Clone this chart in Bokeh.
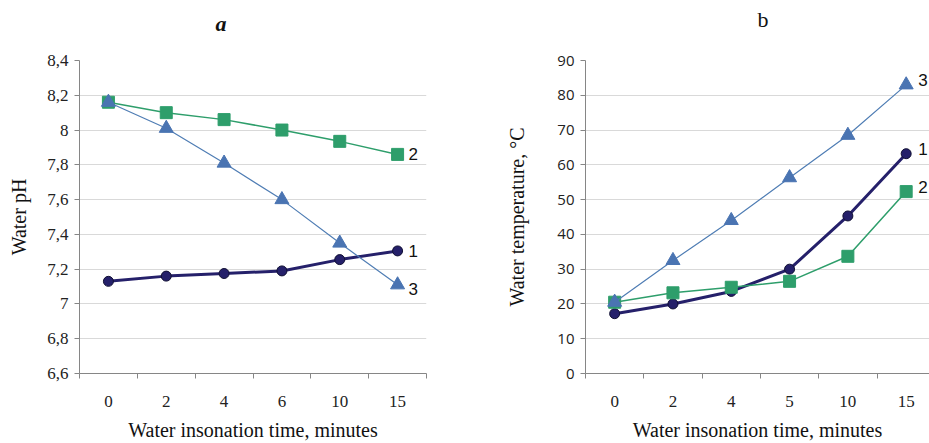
from bokeh.plotting import figure
from bokeh.layouts import row
from bokeh.models import FixedTicker, Range1d, Label, Title
from bokeh.embed import file_html
from bokeh.resources import INLINE

# ---- data ----
times_a = ["0", "2", "4", "6", "10", "15"]
times_b = ["0", "2", "4", "5", "10", "15"]
ph_1 = [7.13, 7.16, 7.175, 7.19, 7.255, 7.305]
ph_2 = [8.16, 8.10, 8.06, 8.00, 7.935, 7.86]
ph_3 = [8.16, 8.01, 7.81, 7.60, 7.35, 7.11]
ph_ticks = [6.6, 6.8, 7.0, 7.2, 7.4, 7.6, 7.8, 8.0, 8.2, 8.4]
ph_tick_labels = ["6,6", "6,8", "7", "7,2", "7,4", "7,6", "7,8", "8", "8,2", "8,4"]
temp_1 = [17.2, 20.0, 23.6, 30.0, 45.3, 63.2]
temp_2 = [20.5, 23.2, 24.8, 26.5, 33.7, 52.3]
temp_3 = [20.5, 32.5, 44.0, 56.3, 68.5, 83.0]
temp_ticks = [0, 10, 20, 30, 40, 50, 60, 70, 80, 90]
series_names = ["1", "2", "3"]

NAVY = "#25206A"
GREEN = "#2E9E6B"
BLUE = "#4A74B2"
BLUE_LINE = "#4F7DB4"
GRID = "#D9D9D9"
AXIS = "#868686"
SERIF = "Liberation Serif"


def style(p, cats, yticks, ylabels, ytick_font, ytick_size, ylabel_text, ylabel_standoff,
          title_text, title_style, title_offset, spacer):
    idx = list(range(len(cats)))
    p.xaxis.ticker = FixedTicker(ticks=idx, minor_ticks=[i - 0.5 for i in range(len(cats) + 1)])
    p.xaxis.major_label_overrides = {i: c for i, c in zip(idx, cats)}
    p.yaxis.ticker = FixedTicker(ticks=yticks)
    p.yaxis.major_label_overrides = {t: l for t, l in zip(yticks, ylabels)}
    for ax in (p.xaxis[0], p.yaxis[0]):
        ax.axis_line_color = AXIS
        ax.axis_line_width = 1
        ax.major_tick_line_color = AXIS
        ax.major_tick_in = 0
        ax.major_tick_out = 5
        ax.minor_tick_in = 0
        ax.axis_label_text_font = SERIF
        ax.axis_label_text_font_size = "20px"
        ax.axis_label_text_font_style = "normal"
        ax.axis_label_text_color = "#111111"
        ax.major_label_text_color = "#222222"
    p.xaxis.major_tick_line_color = None
    p.xaxis.minor_tick_line_color = AXIS
    p.xaxis.minor_tick_out = 5
    p.xaxis.major_label_text_font = SERIF
    p.xaxis.major_label_text_font_size = "17px"
    p.xaxis.major_label_standoff = 17
    p.xaxis.axis_label = "Water insonation time, minutes"
    p.xaxis.axis_label_standoff = 9
    p.yaxis.minor_tick_line_color = None
    p.yaxis.major_label_text_font = ytick_font
    p.yaxis.major_label_text_font_size = ytick_size
    p.yaxis.major_label_standoff = 6
    p.yaxis.axis_label = ylabel_text
    p.yaxis.axis_label_standoff = ylabel_standoff
    p.xgrid.grid_line_color = None
    p.ygrid.ticker = FixedTicker(ticks=yticks)
    p.ygrid.grid_line_color = GRID
    p.ygrid.grid_line_width = 1
    p.outline_line_color = None
    p.background_fill_color = "white"
    p.border_fill_color = "white"
    # spacer between the frame and the panel title
    p.add_layout(Title(text=" ", text_font_size="1px", standoff=spacer), "above")
    p.title.text = title_text
    p.title.text_font = SERIF
    p.title.text_font_size = "22px"
    p.title.text_font_style = title_style
    p.title.text_color = "#111111"
    p.title.align = "left"
    p.title.offset = title_offset
    p.title.standoff = 0


def draw(p, s1, s2, s3, offsets):
    x = list(range(len(s1)))
    p.line(x, s1, line_color=NAVY, line_width=3)
    p.scatter(x, s1, marker="circle", size=10, fill_color=NAVY, line_color="#111033", line_width=1)
    p.line(x, s2, line_color=GREEN, line_width=1.5)
    p.scatter(x, s2, marker="square", size=12, fill_color=GREEN, line_color=GREEN)
    p.line(x, s3, line_color=BLUE_LINE, line_width=1.2)
    p.scatter(x, s3, marker="triangle", size=14, fill_color=BLUE, line_color=BLUE)
    for name, s, off in zip(series_names, (s1, s2, s3), offsets):
        p.add_layout(Label(x=x[-1], y=s[-1], text=name, x_offset=off[0], y_offset=off[1],
                           text_font="Liberation Sans", text_font_size="17px",
                           text_baseline="middle", text_align="left", text_color="#111111"))


# ---- panel a ----
pa = figure(width=470, height=443, output_backend="svg", toolbar_location=None,
            x_range=Range1d(-0.5, 5.5), y_range=Range1d(6.6, 8.4),
            min_border_left=79, min_border_right=44, min_border_top=60, min_border_bottom=68)
style(pa, times_a, ph_ticks, ph_tick_labels, SERIF, "17px", "Water pH", 14,
      "a", "bold italic", 136, 22)
draw(pa, ph_1, ph_2, ph_3, [(11, 0), (11, 0), (11, -4)])

# ---- panel b ----
pb = figure(width=459, height=443, output_backend="svg", toolbar_location=None,
            x_range=Range1d(-0.5, 5.4), y_range=Range1d(0, 90),
            min_border_left=115, min_border_right=0, min_border_top=60, min_border_bottom=68)
style(pb, times_b, temp_ticks, [str(t) for t in temp_ticks], "Open Sans", "15px",
      "Water temperature, \u00b0C", 26, "b", "normal", 172, 26)
draw(pb, temp_1, temp_2, temp_3, [(12, 5), (12, 5), (12, 5)])

layout = row(pa, pb)
open("out.html", "w").write(file_html(layout, INLINE))
